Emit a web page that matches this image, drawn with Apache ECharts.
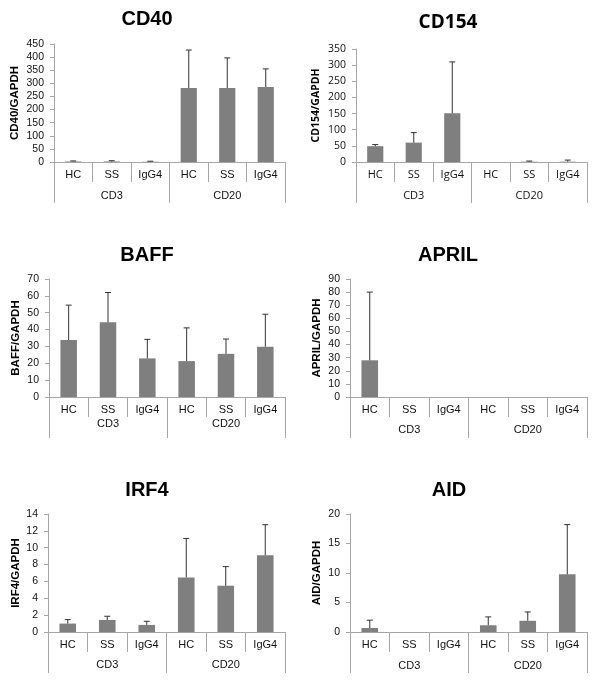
<!DOCTYPE html>
<html>
<head>
<meta charset="utf-8">
<script src="https://cdn.jsdelivr.net/npm/echarts@6/dist/echarts.min.js"></script>
<style>
html,body{margin:0;padding:0;background:#fff;}
#main{width:600px;height:685px;}
</style>
</head>
<body>
<div id="main"></div>
<script>
// ---- data ----
const subgroups = ['HC', 'SS', 'IgG4', 'HC', 'SS', 'IgG4'];
const groups = ['CD3', 'CD20'];

const cd40Mean  = [2, 2, 1, 282, 282, 286];
const cd40Upper = [4, 5, 3, 427, 397, 355];

const cd154Mean  = [49, 60, 151, 0, 1, 1];
const cd154Upper = [54, 91, 310, null, 3, 6];

const baffMean  = [33.8, 44.3, 22.9, 21.3, 25.6, 29.8];
const baffUpper = [54.5, 62, 34.2, 41, 34.4, 49.1];

const aprilMean  = [28, 0, 0, 0, 0, 0];
const aprilUpper = [80, null, null, null, null, null];

const irf4Mean  = [1.0, 1.43, 0.84, 6.48, 5.49, 9.1];
const irf4Upper = [1.47, 1.87, 1.27, 11.1, 7.76, 12.73];

const aidMean  = [0.68, 0, 0, 1.14, 1.9, 9.77];
const aidUpper = [2.0, null, null, 2.56, 3.4, 18.2];

// ---- layout/config ----
const ARIAL = '"Liberation Sans", Arial, sans-serif';
const CALI = '"Open Sans", "Liberation Sans", sans-serif';
const panels = [
  {title: 'CD40', name: 'CD40/GAPDH', mean: cd40Mean, upper: cd40Upper, max: 450, interval: 50,
   grid: {left: 54, top: 44, width: 231, height: 118}, tx: 147, ty: 19, nameGap: 33, groupMargin: 28, font: ARIAL, tsize: 20, nsize: 11.5},
  {title: 'CD154', name: 'CD154/GAPDH', mean: cd154Mean, upper: cd154Upper, max: 350, interval: 50,
   grid: {left: 356, top: 49, width: 231, height: 113}, tx: 448, ty: 23, nameGap: 34, groupMargin: 28, font: CALI, tsize: 19, nsize: 10.5},
  {title: 'BAFF', name: 'BAFF/GAPDH', mean: baffMean, upper: baffUpper, max: 70, interval: 10,
   grid: {left: 49, top: 279, width: 236, height: 118}, tx: 147, ty: 255, nameGap: 27, groupMargin: 21, font: ARIAL, tsize: 20, nsize: 11.5},
  {title: 'APRIL', name: 'APRIL/GAPDH', mean: aprilMean, upper: aprilUpper, max: 90, interval: 10,
   grid: {left: 350, top: 279, width: 237, height: 118}, tx: 448, ty: 255, nameGap: 27, groupMargin: 27, font: ARIAL, tsize: 20, nsize: 11.5},
  {title: 'IRF4', name: 'IRF4/GAPDH', mean: irf4Mean, upper: irf4Upper, max: 14, interval: 2,
   grid: {left: 48, top: 514, width: 237, height: 118}, tx: 147, ty: 490, nameGap: 26, groupMargin: 27, font: ARIAL, tsize: 20, nsize: 11.5},
  {title: 'AID', name: 'AID/GAPDH', mean: aidMean, upper: aidUpper, max: 20, interval: 5,
   grid: {left: 350, top: 514, width: 237, height: 118}, tx: 449, ty: 490, nameGap: 27, groupMargin: 28, font: ARIAL, tsize: 20, nsize: 11.5}
];

const AXIS_COLOR = '#a6a6a6';
const grid = [], xAxis = [], yAxis = [], series = [], graphic = [];

panels.forEach((p, i) => {
  grid.push(Object.assign({}, p.grid));
  xAxis.push({
    type: 'category', gridIndex: i, data: subgroups, position: 'bottom',
    axisLine: {show: true, lineStyle: {color: AXIS_COLOR, width: 1}},
    axisTick: {show: true, interval: 0, length: 20, lineStyle: {color: AXIS_COLOR}},
    axisLabel: {interval: 0, margin: 7, fontSize: 11, color: '#111', fontFamily: p.font},
    splitLine: {show: false}
  });
  xAxis.push({
    type: 'category', gridIndex: i, data: groups, position: 'bottom',
    axisLine: {show: false},
    axisTick: {show: true, interval: 0, length: 41, lineStyle: {color: AXIS_COLOR}},
    axisLabel: {interval: 0, margin: p.groupMargin, fontSize: 11, color: '#111', fontFamily: p.font},
    splitLine: {show: false}
  });
  yAxis.push({
    type: 'value', gridIndex: i, min: 0, max: p.max, interval: p.interval,
    name: p.name, nameLocation: 'middle', nameGap: p.nameGap,
    nameTextStyle: {fontWeight: 'bold', fontSize: p.nsize, color: '#000', fontFamily: p.font},
    axisLine: {show: true, lineStyle: {color: AXIS_COLOR, width: 1}},
    axisTick: {show: true, length: 4, lineStyle: {color: AXIS_COLOR}},
    axisLabel: {margin: 10, fontSize: 10.5, color: '#111', fontFamily: p.font},
    splitLine: {show: false}
  });
  series.push({
    type: 'bar', xAxisIndex: 2 * i, yAxisIndex: i, data: p.mean,
    barWidth: '42%', itemStyle: {color: '#7f7f7f'}, silent: true, animation: false
  });
  const errData = [];
  p.mean.forEach((m, k) => { if (p.upper[k] != null) errData.push([k, m, p.upper[k]]); });
  series.push({
    type: 'custom', xAxisIndex: 2 * i, yAxisIndex: i, data: errData,
    encode: {x: 0, y: [1, 2]}, animation: false, silent: true, z: 5,
    renderItem: function (params, api) {
      const base = api.coord([api.value(0), api.value(1)]);
      const top = api.coord([api.value(0), api.value(2)]);
      const st = {stroke: '#333333', lineWidth: 1};
      return {
        type: 'group', children: [
          {type: 'line', shape: {x1: base[0], y1: base[1], x2: top[0], y2: top[1]}, style: st},
          {type: 'line', shape: {x1: top[0] - 3, y1: top[1], x2: top[0] + 3, y2: top[1]}, style: st}
        ]
      };
    }
  });
  graphic.push({
    type: 'text', x: p.tx, y: p.ty,
    style: {text: p.title, textAlign: 'center', textVerticalAlign: 'middle',
      font: 'bold ' + p.tsize + 'px ' + p.font, fill: '#000'}
  });
});

const chart = echarts.init(document.getElementById('main'), null, {renderer: 'canvas'});
chart.setOption({
  backgroundColor: '#fff',
  animation: false,
  grid, xAxis, yAxis, series, graphic
});
</script>
</body>
</html>
